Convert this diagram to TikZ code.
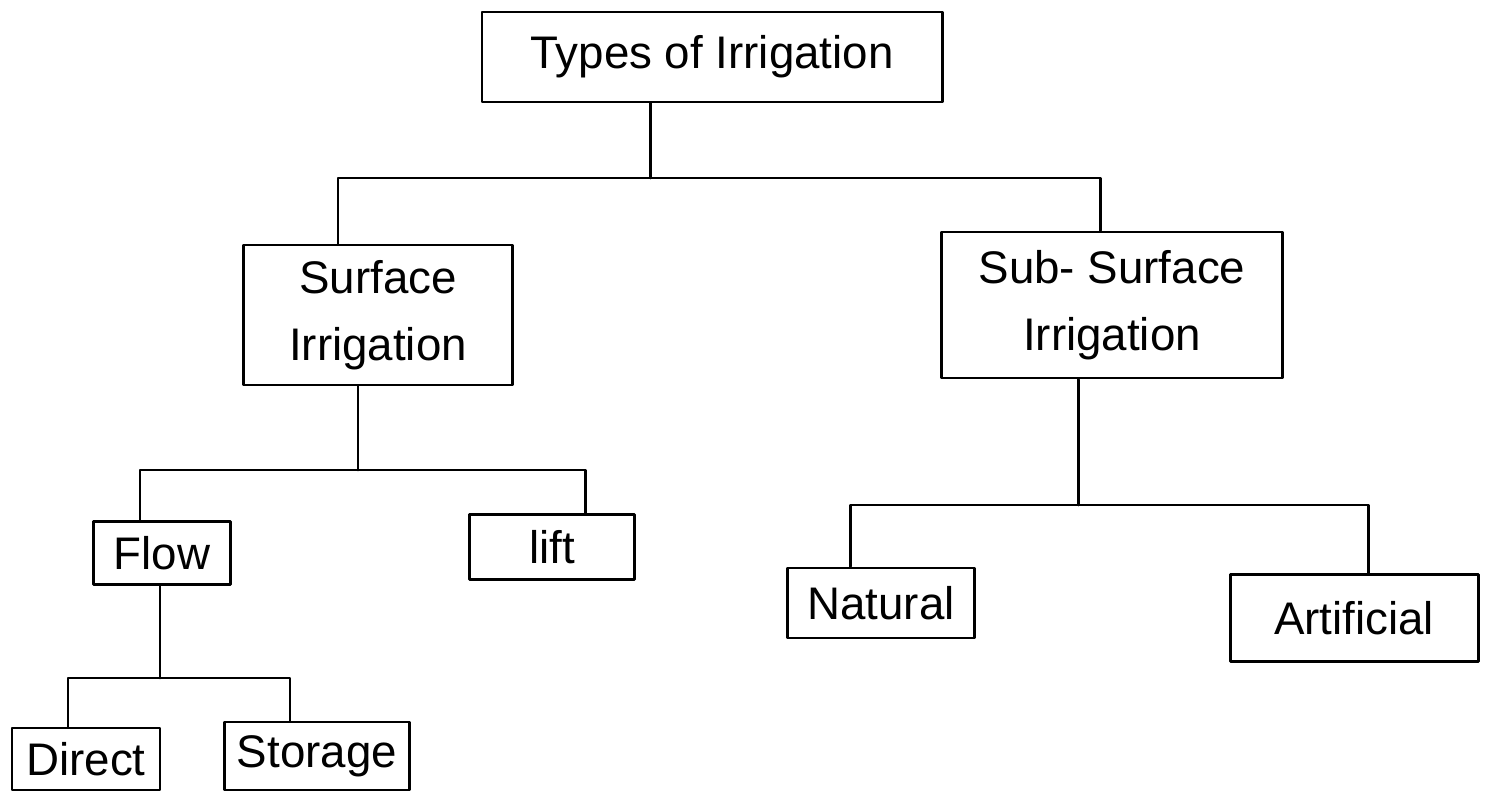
\documentclass[tikz,border=0pt]{standalone}
\usepackage{fontspec}
\setmainfont{Liberation Sans}
\begin{document}
\begin{tikzpicture}[
				line join = round,line cap = round,line width=0.85pt,
				kotak/.style={rectangle,draw = black,line width=0.85pt,align=center,inner sep=1mm,font=\fontsize{13}{19}\selectfont}]
				\useasboundingbox (0,0) rectangle (14.92,-8);
				\node at (7.12,-0.57) (nodeTypes) [kotak, minimum width=4.6cm, minimum height=0.9cm] {Types of Irrigation};
				\node at (3.78,-3.15) (nodeSurf) [kotak, minimum width=2.69cm, minimum height=1.4cm] {Surface\\Irrigation};
				\node at (11.12,-3.05) (nodeSub) [kotak, minimum width=3.41cm, minimum height=1.46cm] {Sub- Surface\\Irrigation};
				\node at (1.62,-5.53) (nodeFlow) [kotak, minimum width=1.37cm, minimum height=0.63cm] {Flow};
				\node at (5.52,-5.47) (nodeLift) [kotak, minimum width=1.65cm, minimum height=0.65cm] {lift};
				\node at (0.86,-7.59) (nodeDirect) [kotak, minimum width=1.48cm, minimum height=0.62cm] {Direct};
				\node at (3.17,-7.56) (nodeStorage) [kotak, minimum width=1.85cm, minimum height=0.68cm] {Storage};
				\node at (8.81,-6.03) (nodeNat) [kotak, minimum width=1.87cm, minimum height=0.7cm] {Natural};
				\node at (13.54,-6.18) (nodeArt) [kotak, minimum width=2.48cm, minimum height=0.87cm] {Artificial};
				% junctions
				\coordinate (j0) at (6.50,-1.78);
				\coordinate (a1) at (3.38,-1.78);
				\coordinate (a2) at (11.00,-1.78);
				\coordinate (j1) at (3.58,-4.70);
				\coordinate (b1) at (1.40,-4.70);
				\coordinate (b2) at (5.85,-4.70);
				\coordinate (j2) at (1.60,-6.78);
				\coordinate (c1) at (0.68,-6.78);
				\coordinate (c2) at (2.90,-6.78);
				\coordinate (j3) at (10.78,-5.05);
				\coordinate (d1) at (8.50,-5.05);
				\coordinate (d2) at (13.68,-5.05);
				\draw (nodeTypes.south -| j0) -- (j0);
				\draw (nodeSurf.north -| a1) -- (a1) -- (a2) -- (nodeSub.north -| a2);
				\draw (nodeSurf.south -| j1) -- (j1);
				\draw (nodeFlow.north -| b1) -- (b1) -- (b2) -- (nodeLift.north -| b2);
				\draw (nodeFlow.south -| j2) -- (j2);
				\draw (nodeDirect.north -| c1) -- (c1) -- (c2) -- (nodeStorage.north -| c2);
				\draw (nodeSub.south -| j3) -- (j3);
				\draw (nodeNat.north -| d1) -- (d1) -- (d2) -- (nodeArt.north -| d2);
			\end{tikzpicture}
\end{document}
